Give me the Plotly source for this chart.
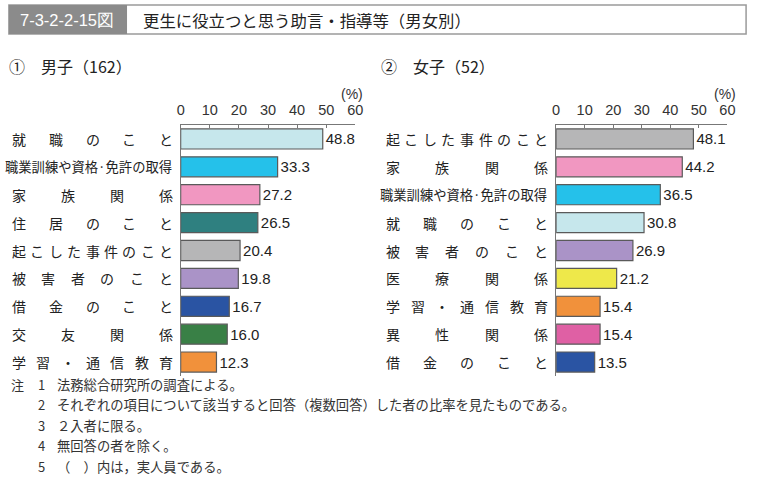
import plotly.graph_objects as go

W, H = 759, 481

# ---- data ----
male_cats = ["就職のこと", "職業訓練や資格·免許の取得", "家族関係", "住居のこと", "起こした事件のこと",
             "被害者のこと", "借金のこと", "交友関係", "学習・通信教育"]
male_vals = [48.8, 33.3, 27.2, 26.5, 20.4, 19.8, 16.7, 16.0, 12.3]

female_cats = ["起こした事件のこと", "家族関係", "職業訓練や資格·免許の取得", "就職のこと", "被害者のこと",
               "医療関係", "学習・通信教育", "異性関係", "借金のこと"]
female_vals = [48.1, 44.2, 36.5, 30.8, 26.9, 21.2, 15.4, 15.4, 13.5]

tick_vals = [0, 10, 20, 30, 40, 50, 60]

cat_colors = {
    "就職のこと": "#c6e7ec",
    "職業訓練や資格·免許の取得": "#25c1ea",
    "家族関係": "#f197c1",
    "住居のこと": "#2f8080",
    "起こした事件のこと": "#b6b6b7",
    "被害者のこと": "#aa93c7",
    "借金のこと": "#2a54a3",
    "交友関係": "#398046",
    "学習・通信教育": "#f1913b",
    "医療関係": "#eee84a",
    "異性関係": "#df60a4",
}

JP = "Noto Sans CJK JP"
NUM = "Liberation Sans, Arial, sans-serif"

def px_x(x):
    return x / W

def px_y(y):
    return 1 - y / H

fig = go.Figure()

for cats, vals, xa, ya in [(male_cats, male_vals, "x", "y"), (female_cats, female_vals, "x2", "y2")]:
    fig.add_trace(go.Bar(
        x=vals, y=cats, orientation="h", xaxis=xa, yaxis=ya,
        marker=dict(color=[cat_colors[c] for c in cats], line=dict(color="#5a5a5a", width=1.2)),
        width=0.72,
        text=[f"{v:.1f}" for v in vals], textposition="outside", constraintext="none",
        textfont=dict(family=NUM, size=15, color="#222"), cliponaxis=False,
        showlegend=False, hoverinfo="skip",
    ))

ydom = [px_y(376), px_y(125)]
xcommon = dict(range=[0, 60], side="top", tickvals=tick_vals, ticks="inside", ticklen=3,
               tickcolor="#777", showline=True, linecolor="#777", linewidth=1, showgrid=False,
               zeroline=False, tickfont=dict(family=NUM, size=14.5, color="#333"), fixedrange=True,
               ticklabelstandoff=3)
ycommon = dict(type="category", autorange="reversed", showline=True, linecolor="#777", linewidth=1,
               showticklabels=False, ticks="", showgrid=False, zeroline=False, fixedrange=True)

fig.update_layout(
    width=W, height=H, autosize=False, margin=dict(l=0, r=0, t=0, b=0),
    paper_bgcolor="white", plot_bgcolor="white",
    bargap=0.28,
    xaxis=dict(domain=[px_x(179.5), px_x(357)], anchor="y", **xcommon),
    yaxis=dict(domain=ydom, anchor="x", **ycommon),
    xaxis2=dict(domain=[px_x(561), px_x(735)], anchor="y2", **xcommon),
    yaxis2=dict(domain=ydom, anchor="x2", **ycommon),
)

annots = []

# category labels, distributed (justified)
def add_labels(cats, yref, left, right, size=14):
    for c in cats:
        if len(c) >= 12:
            annots.append(dict(text=c, x=px_x(right + 1), y=c, xref="paper", yref=yref,
                               xanchor="right", yanchor="middle", showarrow=False,
                               font=dict(family=JP, size=13.3, color="#222")))
            continue
        n = len(c)
        c0 = left + size / 2
        c1 = right - size / 2
        for i, ch in enumerate(c):
            cx = c0 + (c1 - c0) * i / (n - 1)
            annots.append(dict(text=ch, x=px_x(cx), y=c, xref="paper", yref=yref,
                               xanchor="center", yanchor="middle", showarrow=False,
                               font=dict(family=JP, size=size, color="#222")))

add_labels(male_cats, "y", 8, 172)
add_labels(female_cats, "y2", 388, 553)

# subtitles
annots.append(dict(text="①　男子（162）", x=px_x(3), y=px_y(66), xref="paper", yref="paper",
                   xanchor="left", yanchor="middle", showarrow=False,
                   font=dict(family=JP, size=16, color="#222")))
annots.append(dict(text="②　女子（52）", x=px_x(381), y=px_y(66), xref="paper", yref="paper",
                   xanchor="left", yanchor="middle", showarrow=False,
                   font=dict(family=JP, size=16, color="#222")))
# (%)
for xr in [367, 746]:
    annots.append(dict(text="(%)", x=px_x(xr), y=px_y(94), xref="paper", yref="paper",
                       xanchor="right", yanchor="middle", showarrow=False,
                       font=dict(family=NUM, size=14, color="#333")))

# header
annots.append(dict(text="7-3-2-2-15図", x=px_x(64), y=px_y(19.5), xref="paper", yref="paper",
                   xanchor="center", yanchor="middle", showarrow=False,
                   font=dict(family=NUM, size=16.5, color="white")))
annots.append(dict(text="更生に役立つと思う助言・指導等（男女別）", x=px_x(139), y=px_y(19.5),
                   xref="paper", yref="paper", xanchor="left", yanchor="middle", showarrow=False,
                   font=dict(family=JP, size=16.4, color="#222")))

# notes
notes_num = ["1", "2", "3", "4", "5"]
notes_txt = ["法務総合研究所の調査による。",
             "それぞれの項目について該当すると回答（複数回答）した者の比率を見たものである。",
             "２入者に限る。",
             "無回答の者を除く。",
             "（　）内は，実人員である。"]
annots.append(dict(text="注", x=px_x(5), y=px_y(384), xref="paper", yref="paper",
                   xanchor="left", yanchor="middle", showarrow=False,
                   font=dict(family=JP, size=13, color="#333")))
for i, (nn, tt) in enumerate(zip(notes_num, notes_txt)):
    yy = 384 + i * 20.5
    annots.append(dict(text=nn, x=px_x(38), y=px_y(yy), xref="paper", yref="paper",
                       xanchor="center", yanchor="middle", showarrow=False,
                       font=dict(family=JP, size=13, color="#333")))
    annots.append(dict(text=tt, x=px_x(52), y=px_y(yy), xref="paper", yref="paper",
                       xanchor="left", yanchor="middle", showarrow=False,
                       font=dict(family=JP, size=13.3, color="#333")))

shapes = [
    dict(type="rect", xref="paper", yref="paper", x0=px_x(5), x1=px_x(754), y0=px_y(34), y1=px_y(5),
         line=dict(color="#9a9a9a", width=1.5), fillcolor="white", layer="below"),
    dict(type="rect", xref="paper", yref="paper", x0=px_x(5), x1=px_x(125), y0=px_y(34), y1=px_y(5),
         line=dict(width=0), fillcolor="#8b8b8b", layer="below"),
]

fig.update_layout(annotations=annots, shapes=shapes)

fig.write_html(
    "out.html",
    config={"displayModeBar": False, "responsive": False, "staticPlot": True},
    post_script=("document.documentElement.style.overflow='hidden';"
                 "document.body.style.overflow='hidden';"
                 "document.body.style.margin='0';document.body.style.padding='0';"),
)
